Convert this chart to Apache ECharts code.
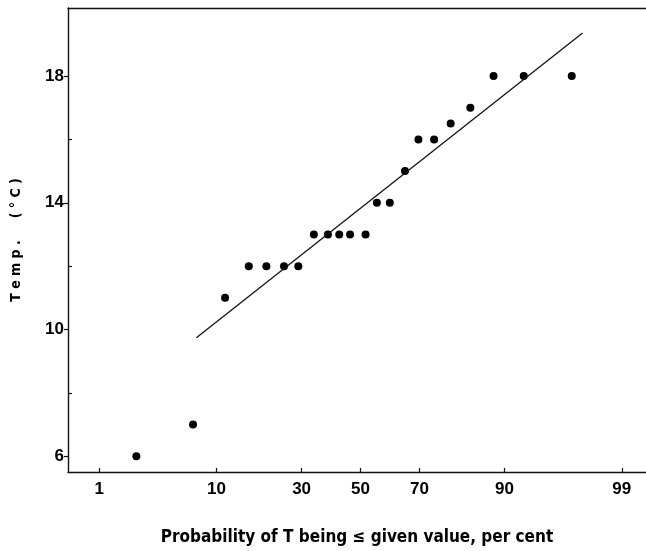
<!DOCTYPE html>
<html><head><meta charset="utf-8">
<script src="https://cdn.jsdelivr.net/npm/echarts@6/dist/echarts.min.js"></script>
<style>html,body{margin:0;padding:0;background:#fff}#c{width:646px;height:551px}</style>
</head><body><div id="c"></div>
<script>
// Data
const probPercent = [2.3, 6.8, 11.4, 16.0, 20.1, 24.8, 29.0, 33.9, 38.6, 42.5, 46.3, 51.8, 55.8, 60.3, 65.4, 69.7, 74.4, 78.9, 83.6, 88.2, 92.7, 97.0];
const temps       = [6, 7, 11, 12, 12, 12, 12, 13, 13, 13, 13, 13, 14, 14, 15, 16, 16, 16.5, 17, 18, 18, 18];
const fitLinePercent = [7.2, 97.6];
const fitLineTemp    = [9.74, 19.36];
const xTickPercents = [1, 10, 30, 50, 70, 90, 99];
const yTickValues   = [6, 10, 14, 18];
const yMinorTicks   = [8, 12, 16];

function probit(p) {
  const a = [-3.969683028665376e+01, 2.209460984245205e+02, -2.759285104469687e+02, 1.383577518672690e+02, -3.066479806614716e+01, 2.506628277459239e+00];
  const b = [-5.447609879822406e+01, 1.615858368580409e+02, -1.556989798598866e+02, 6.680131188771972e+01, -1.328068155288572e+01];
  const c = [-7.784894002430293e-03, -3.223964580411365e-01, -2.400758277161838e+00, -2.549732539343734e+00, 4.374664141464968e+00, 2.938163982698783e+00];
  const d = [7.784695709041462e-03, 3.224671290700398e-01, 2.445134137142996e+00, 3.754408661907416e+00];
  const plow = 0.02425, phigh = 1 - plow;
  let q, r;
  if (p < plow) {
    q = Math.sqrt(-2 * Math.log(p));
    return (((((c[0]*q+c[1])*q+c[2])*q+c[3])*q+c[4])*q+c[5]) / ((((d[0]*q+d[1])*q+d[2])*q+d[3])*q+1);
  } else if (p <= phigh) {
    q = p - 0.5; r = q * q;
    return (((((a[0]*r+a[1])*r+a[2])*r+a[3])*r+a[4])*r+a[5])*q / (((((b[0]*r+b[1])*r+b[2])*r+b[3])*r+b[4])*r+1);
  } else {
    q = Math.sqrt(-2 * Math.log(1 - p));
    return -(((((c[0]*q+c[1])*q+c[2])*q+c[3])*q+c[4])*q+c[5]) / ((((d[0]*q+d[1])*q+d[2])*q+d[3])*q+1);
  }
}

const xTickZ = xTickPercents.map(p => probit(p / 100));
const labelFor = v => {
  for (let i = 0; i < xTickZ.length; i++) if (Math.abs(xTickZ[i] - v) < 1e-6) return String(xTickPercents[i]);
  return '';
};
const FONT = "'Liberation Sans Narrow', 'DejaVu Sans Condensed', 'Liberation Sans', sans-serif";
const X_MIN = -2.604, X_MAX = 2.542, Y_MIN = 5.5, Y_MAX = 20.15;
const lineCol = '#111';

const chart = echarts.init(document.getElementById('c'), null, {renderer: 'canvas'});
chart.setOption({
  animation: false,
  backgroundColor: '#fff',
  grid: {left: 68, right: -1, top: 8, bottom: 79, containLabel: false},
  xAxis: [{
    type: 'value', min: X_MIN, max: X_MAX, position: 'bottom',
    axisLine: {show: true, onZero: false, lineStyle: {color: lineCol, width: 1.4}},
    axisTick: {show: true, inside: true, length: 4, customValues: xTickZ, lineStyle: {color: lineCol, width: 1.2}},
    axisLabel: {show: true, customValues: xTickZ, formatter: labelFor, margin: 9,
      color: '#000', fontFamily: "'Liberation Sans', Arial, sans-serif", fontWeight: 'bold', fontSize: 17},
    splitLine: {show: false},
    name: 'Probability of T being \u2264 given value, per cent',
    nameLocation: 'middle', nameGap: 57,
    nameTextStyle: {color: '#000', fontFamily: FONT, fontWeight: 'bold', fontSize: 17}
  }, {
    type: 'value', min: X_MIN, max: X_MAX, position: 'top',
    axisLine: {show: true, onZero: false, lineStyle: {color: lineCol, width: 1.4}},
    axisTick: {show: false}, axisLabel: {show: false}, splitLine: {show: false}
  }],
  yAxis: [{
    type: 'value', min: Y_MIN, max: Y_MAX, position: 'left',
    axisLine: {show: true, onZero: false, lineStyle: {color: lineCol, width: 1.4}},
    axisTick: {show: true, inside: false, length: 4, customValues: yTickValues, lineStyle: {color: lineCol, width: 1.2}},
    axisLabel: {show: true, customValues: yTickValues, margin: 4,
      color: '#000', fontFamily: "'Liberation Sans', Arial, sans-serif", fontWeight: 'bold', fontSize: 17},
    splitLine: {show: false},
    name: 'T e m p .     ( \u00b0 C )',
    nameLocation: 'middle', nameRotate: 90, nameGap: 45,
    nameTextStyle: {color: '#000', fontFamily: FONT, fontWeight: 'bold', fontSize: 14}
  }, {
    type: 'value', min: Y_MIN, max: Y_MAX, position: 'left',
    axisLine: {show: false, onZero: false},
    axisTick: {show: true, inside: true, length: 4, customValues: yMinorTicks, lineStyle: {color: lineCol, width: 1.2}},
    axisLabel: {show: false}, splitLine: {show: false}
  }],
  series: [{
    type: 'line',
    data: fitLinePercent.map((p, i) => [probit(p / 100), fitLineTemp[i]]),
    showSymbol: false, symbol: 'none',
    lineStyle: {color: lineCol, width: 1.3},
    silent: true
  }, {
    type: 'scatter',
    data: probPercent.map((p, i) => [probit(p / 100), temps[i]]),
    symbol: 'circle', symbolSize: 8,
    itemStyle: {color: '#000', opacity: 1}
  }]
});
</script></body></html>
